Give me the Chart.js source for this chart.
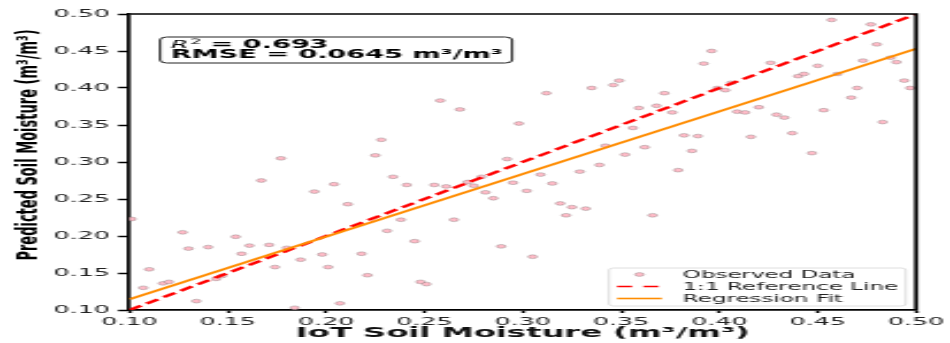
<!DOCTYPE html>
<html>
<head>
<meta charset="utf-8">
<script src="https://cdn.jsdelivr.net/npm/chart.js@4.4.0/dist/chart.umd.min.js"></script>
<style>
  html, body { margin: 0; padding: 0; background: #fff; }
</style>
</head>
<body>
<canvas id="scatterChart" width="413" height="343" style="display:block;width:950px;height:343px"></canvas>
<script>
// observed vs predicted soil moisture (m3/m3)
const iotMoisture = [
  0.101, 0.107, 0.110, 0.117, 0.120, 0.127, 0.130, 0.134, 0.140, 0.144,
  0.147, 0.154, 0.157, 0.161, 0.167, 0.171, 0.174, 0.177, 0.180, 0.184,
  0.187, 0.194, 0.198, 0.201, 0.204, 0.207, 0.211, 0.218, 0.221, 0.225,
  0.228, 0.231, 0.234, 0.238, 0.241, 0.245, 0.248, 0.251, 0.255, 0.258,
  0.261, 0.265, 0.268, 0.272, 0.275, 0.279, 0.281, 0.285, 0.289, 0.292,
  0.295, 0.298, 0.302, 0.305, 0.309, 0.312, 0.315, 0.319, 0.322, 0.325,
  0.329, 0.332, 0.335, 0.339, 0.342, 0.346, 0.349, 0.352, 0.356, 0.359,
  0.362, 0.366, 0.368, 0.372, 0.376, 0.379, 0.382, 0.386, 0.389, 0.392,
  0.396, 0.399, 0.403, 0.406, 0.409, 0.413, 0.416, 0.420, 0.426, 0.429,
  0.433, 0.437, 0.440, 0.443, 0.447, 0.450, 0.453, 0.457, 0.460, 0.467,
  0.470, 0.473, 0.477, 0.480, 0.483, 0.487, 0.490, 0.494, 0.497
];
const predictedMoisture = [
  0.223, 0.130, 0.155, 0.136, 0.138, 0.205, 0.183, 0.112, 0.185, 0.142,
  0.146, 0.199, 0.176, 0.187, 0.275, 0.188, 0.158, 0.305, 0.184, 0.103,
  0.168, 0.260, 0.175, 0.158, 0.270, 0.109, 0.243, 0.176, 0.147, 0.309,
  0.330, 0.207, 0.280, 0.222, 0.269, 0.193, 0.138, 0.135, 0.269, 0.383,
  0.267, 0.222, 0.371, 0.273, 0.268, 0.280, 0.259, 0.251, 0.186, 0.304,
  0.272, 0.352, 0.261, 0.172, 0.283, 0.393, 0.271, 0.244, 0.228, 0.239,
  0.287, 0.237, 0.400, 0.296, 0.322, 0.404, 0.410, 0.310, 0.346, 0.373,
  0.320, 0.228, 0.376, 0.393, 0.367, 0.289, 0.336, 0.315, 0.335, 0.433,
  0.450, 0.400, 0.397, 0.407, 0.368, 0.367, 0.334, 0.374, 0.434, 0.364,
  0.360, 0.339, 0.416, 0.419, 0.312, 0.430, 0.370, 0.492, 0.419, 0.387,
  0.400, 0.437, 0.486, 0.459, 0.354, 0.441, 0.435, 0.410, 0.400
];
const referenceLine = [0.10, 0.50];
const regressionSlope = 0.846;
const regressionIntercept = 0.030;
const xTicks = [0.10, 0.15, 0.20, 0.25, 0.30, 0.35, 0.40, 0.45, 0.50];
const yTicks = [0.10, 0.15, 0.20, 0.25, 0.30, 0.35, 0.40, 0.45, 0.50];
const legendLabels = ['Observed Data', '1:1 Reference Line', 'Regression Fit'];
const statsR2 = '0.693';
const statsRmse = '0.0645';

const FONT = '"DejaVu Sans", sans-serif';
const PINK = 'rgba(255,188,200,1)';
const PINK_EDGE = 'rgba(120,110,110,0.8)';

// the source picture is squashed, so draw narrow and stretch it sideways
const STRETCH = 2.3;
const canvas = document.getElementById('scatterChart');
canvas.width = Math.round(950 / STRETCH);

const scatterPoints = iotMoisture.map((x, i) => ({ x: x, y: predictedMoisture[i] }));
const refPoints = referenceLine.map(v => ({ x: v, y: v }));
const fitPoints = referenceLine.map(v => ({ x: v, y: regressionIntercept + regressionSlope * v }));

function roundRect(ctx, x, y, w, h, r) {
    ctx.beginPath();
    ctx.moveTo(x + r, y);
    ctx.lineTo(x + w - r, y);
    ctx.quadraticCurveTo(x + w, y, x + w, y + r);
    ctx.lineTo(x + w, y + h - r);
    ctx.quadraticCurveTo(x + w, y + h, x + w - r, y + h);
    ctx.lineTo(x + r, y + h);
    ctx.quadraticCurveTo(x, y + h, x, y + h - r);
    ctx.lineTo(x, y + r);
    ctx.quadraticCurveTo(x, y, x + r, y);
    ctx.closePath();
}

const extrasPlugin = {
    id: 'extras',
    afterDraw(chart) {
        const ctx = chart.ctx;
        const a = chart.chartArea;
        ctx.save();

        // top + right spines
        ctx.strokeStyle = '#000';
        ctx.lineWidth = 1.7;
        ctx.beginPath();
        ctx.moveTo(a.left, a.top);
        ctx.lineTo(a.right, a.top);
        ctx.lineTo(a.right, a.bottom);
        ctx.stroke();

        // stats box
        const bx = a.left + 13.3, by = 37, bw = 153, bh = 26;
        roundRect(ctx, bx, by, bw, bh, 3);
        ctx.fillStyle = '#fff';
        ctx.fill();
        ctx.lineWidth = 1;
        ctx.strokeStyle = '#222';
        ctx.stroke();

        ctx.fillStyle = '#000';
        ctx.textBaseline = 'alphabetic';
        ctx.textAlign = 'left';
        let tx = bx + 4.6;
        ctx.font = 'italic 11px ' + FONT;
        ctx.fillText('R', tx, 47.5);
        tx += ctx.measureText('R').width + 0.8;
        ctx.font = '7.5px ' + FONT;
        ctx.fillText('2', tx, 43.5);
        tx += ctx.measureText('2').width;
        ctx.font = 'bold 11.8px ' + FONT;
        ctx.fillText(' = ' + statsR2, tx, 47.5);
        ctx.fillText('RMSE = ' + statsRmse + ' m³/m³', bx + 4.6, 57.8);

        // legend
        const lx = a.right - 133.5, ly = a.bottom - 42, lw = 129, lh = 38;
        roundRect(ctx, lx, ly, lw, lh, 2);
        ctx.fillStyle = 'rgba(255,255,255,0.85)';
        ctx.fill();
        ctx.lineWidth = 0.8;
        ctx.strokeStyle = '#d6d6d6';
        ctx.stroke();

        const rows = [ly + 6.5, ly + 18.5, ly + 30.5];
        const sx0 = lx + 3.5, sx1 = lx + 23, textX = lx + 32;
        // marker
        ctx.beginPath();
        ctx.arc((sx0 + sx1) / 2, rows[0], 1.9, 0, Math.PI * 2);
        ctx.fillStyle = PINK;
        ctx.fill();
        ctx.lineWidth = 0.45;
        ctx.strokeStyle = PINK_EDGE;
        ctx.stroke();
        // dashed
        ctx.strokeStyle = '#ff0000';
        ctx.lineWidth = 1.6;
        ctx.setLineDash([6.5, 5]);
        ctx.beginPath();
        ctx.moveTo(sx0, rows[1]);
        ctx.lineTo(sx1, rows[1]);
        ctx.stroke();
        ctx.setLineDash([]);
        ctx.strokeStyle = '#ff8c00';
        ctx.beginPath();
        ctx.moveTo(sx0, rows[2]);
        ctx.lineTo(sx1, rows[2]);
        ctx.stroke();

        ctx.fillStyle = '#222';
        ctx.font = '10px ' + FONT;
        ctx.textBaseline = 'middle';
        legendLabels.forEach((t, i) => ctx.fillText(t, textX, rows[i] + 0.5));

        // y axis title
        ctx.translate(15.7, 145);
        ctx.rotate(-Math.PI / 2);
        ctx.textAlign = 'center';
        ctx.textBaseline = 'alphabetic';
        ctx.fillStyle = '#000';
        ctx.font = 'bold 13px ' + FONT;
        ctx.fillText('Predicted Soil Moisture (m³/m³)', 0, 0);

        ctx.restore();
    }
};

new Chart(canvas, {
    type: 'scatter',
    data: {
        datasets: [
            {
                label: legendLabels[2],
                data: fitPoints,
                showLine: true,
                borderColor: '#ff8c00',
                borderWidth: 2,
                pointRadius: 0,
                fill: false,
                order: 0
            },
            {
                label: legendLabels[1],
                data: refPoints,
                showLine: true,
                borderColor: '#ff0000',
                borderWidth: 2.3,
                borderDash: [6.6, 3.2],
                pointRadius: 0,
                fill: false,
                order: 1
            },
            {
                label: legendLabels[0],
                data: scatterPoints,
                pointRadius: 1.9,
                pointBackgroundColor: PINK,
                pointBorderColor: PINK_EDGE,
                pointBorderWidth: 0.45,
                order: 2
            }
        ]
    },
    options: {
        responsive: false,
        animation: false,
        devicePixelRatio: 1,
        events: [],
        layout: { padding: { left: 0, right: 13.4, top: 14, bottom: 0 } },
        plugins: {
            legend: { display: false },
            tooltip: { enabled: false }
        },
        scales: {
            x: {
                type: 'linear',
                min: 0.10,
                max: 0.50,
                afterBuildTicks: s => { s.ticks = xTicks.map(v => ({ value: v })); },
                afterFit: s => { s.height = 33; },
                ticks: {
                    callback: v => v.toFixed(2),
                    font: { family: FONT, size: 11 },
                    color: '#222',
                    padding: 2.5,
                    maxRotation: 0,
                    autoSkip: false
                },
                grid: { drawOnChartArea: false, tickLength: 3, tickWidth: 1.5, tickColor: '#000' },
                border: { width: 1.7, color: '#000' },
                title: {
                    display: true,
                    text: 'IoT Soil Moisture (m³/m³)',
                    color: '#111',
                    font: { family: FONT, size: 14, weight: 'bold', lineHeight: 1.2 },
                    padding: { top: 0, bottom: 1.5 }
                }
            },
            y: {
                type: 'linear',
                min: 0.10,
                max: 0.50,
                afterBuildTicks: s => { s.ticks = yTicks.map(v => ({ value: v })); },
                afterFit: s => { s.width = 56.3; },
                ticks: {
                    callback: v => v.toFixed(2),
                    font: { family: FONT, size: 11 },
                    color: '#222',
                    padding: 3.5,
                    autoSkip: false
                },
                grid: { drawOnChartArea: false, tickLength: 5, tickWidth: 1.5, tickColor: '#000' },
                border: { width: 1.7, color: '#000' }
            }
        }
    },
    plugins: [extrasPlugin]
});
</script>
</body>
</html>
